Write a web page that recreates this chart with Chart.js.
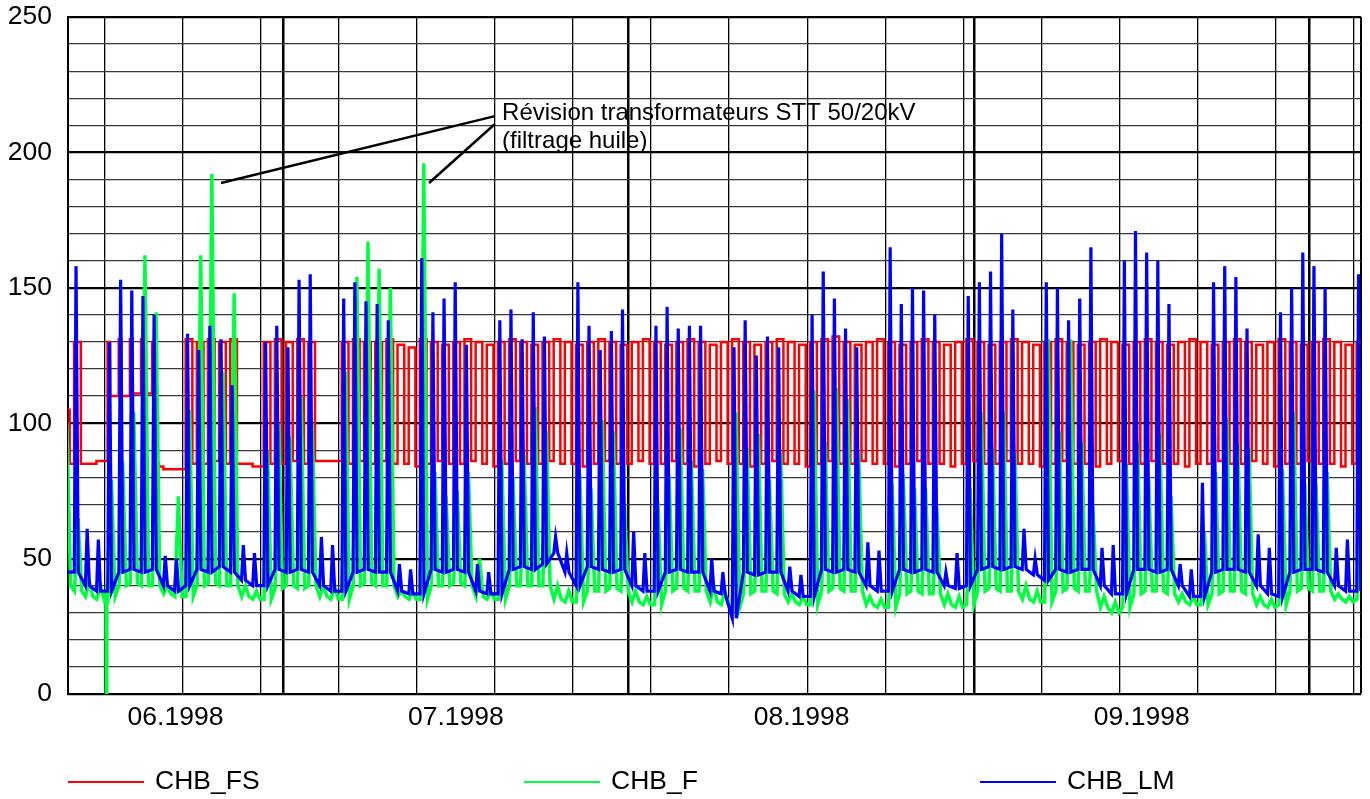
<!DOCTYPE html>
<html>
<head>
<meta charset="utf-8">
<title>CHB</title>
<script src="https://cdn.jsdelivr.net/npm/chart.js@4.4.0/dist/chart.umd.min.js"></script>
<style>
  html, body { margin: 0; padding: 0; background: #fff; }
</style>
</head>
<body>
<canvas id="chart" width="1370" height="799"></canvas>
<script>
// x = days counted from 01.06.1998 00:00; arrays below start with day 10 (Thu 11.06.1998)
const firstDay = 10;
const xMin = 10.72, xMax = 126.66;
const mondays = [14, 21, 28, 35, 42, 49, 56, 63, 70, 77, 84, 91, 98, 105, 112, 119, 126];
const monthStarts = [30, 61, 92, 122];
const monthLabelPos = [20.36, 45.5, 76.5, 107];
const monthLabelText = ['06.1998', '07.1998', '08.1998', '09.1998'];

// CHB_LM (blue): daily peak and night level
const lmPeak = [
  160, 158, 61, 57,
  130, 153, 149, 147, 140, 51, 50,
  133, 127, 136, 131, 114, 55, 52,
  130, 136, 128, 153, 155, 58, 55,
  146, 152, 145, 144, 138, 48, 46,
  161, 141, 146, 152, 129, 48, 45,
  138, 142, 131, 141, 132, 58, 52,
  152, 136, 127, 134, 142, 60, 52,
  136, 143, 135, 136, 136, 50, 45,
  128, 138, 125, 132, 128, 47, 44,
  140, 156, 146, 135, 128, 56, 53,
  165, 144, 150, 149, 140, 45, 52,
  147, 152, 156, 170, 142, 61, 50,
  152, 150, 138, 146, 165, 54, 55,
  160, 171, 163, 160, 144, 48, 46,
  78, 152, 158, 154, 135, 59, 54,
  141, 150, 163, 158, 150, 54, 57,
  155
];
const lmBase = [
  45, 45, 40, 38,
  38, 45, 46, 45, 46, 40, 38,
  40, 46, 45, 47, 45, 42, 40,
  40, 46, 45, 46, 45, 40, 38,
  38, 45, 46, 45, 45, 38, 37,
  37, 46, 45, 46, 45, 38, 37,
  37, 46, 47, 46, 48, 52, 45,
  40, 47, 46, 45, 46, 40, 38,
  38, 45, 46, 45, 45, 38, 37,
  28, 45, 44, 45, 45, 38, 36,
  36, 46, 45, 46, 45, 40, 38,
  38, 46, 45, 46, 45, 40, 39,
  40, 46, 47, 46, 47, 46, 44,
  42, 46, 45, 46, 46, 40, 37,
  37, 46, 46, 45, 46, 40, 36,
  36, 45, 46, 46, 45, 40, 37,
  36, 45, 46, 46, 45, 40, 38,
  38
];

// CHB_F (green): daily peak and night level
const fPeak = [
  100, 65, 42, 40,
  79, 86, 104, 162, 141, 40, 73,
  105, 162, 192, 119, 148, 40, 38,
  90, 100, 95, 110, 100, 40, 40,
  119, 154, 167, 157, 150, 38, 38,
  196, 82, 73, 75, 82, 50, 38,
  86, 80, 88, 106, 97, 40, 38,
  81, 76, 101, 97, 70, 38, 36,
  71, 81, 98, 86, 83, 40, 38,
  104, 91, 96, 79, 89, 37, 36,
  112, 93, 113, 109, 89, 36, 35,
  78, 81, 76, 76, 69, 37, 36,
  76, 104, 91, 104, 89, 40, 38,
  131, 97, 131, 93, 69, 36, 34,
  85, 93, 80, 96, 73, 37, 36,
  60, 82, 102, 92, 91, 36, 35,
  83, 104, 78, 78, 82, 37, 36,
  73
];
const fBase = [
  40, 38, 36, 35,
  36, 40, 41, 40, 40, 37, 36,
  36, 40, 41, 40, 40, 36, 35,
  35, 39, 40, 39, 40, 36, 35,
  35, 40, 41, 40, 40, 36, 35,
  35, 40, 40, 41, 40, 36, 35,
  35, 40, 40, 40, 40, 35, 34,
  34, 38, 38, 39, 38, 34, 33,
  33, 38, 39, 38, 38, 34, 33,
  32, 37, 38, 38, 37, 34, 33,
  33, 38, 39, 38, 38, 33, 32,
  32, 37, 38, 37, 37, 33, 32,
  33, 38, 39, 38, 38, 35, 34,
  34, 38, 39, 38, 38, 32, 30,
  32, 37, 38, 38, 37, 34, 33,
  33, 37, 38, 38, 37, 33, 32,
  33, 38, 39, 38, 38, 35, 34,
  35
];
// the short drop of CHB_F to 0 on 15.06.1998 early morning
const fDropX = [14.12, 14.16, 14.2];
const fDropY = [37, 0, 37];

// CHB_FS (red): morning level, day level (null = no pulse), night level
const fsMorning = [
  null, null, null, null,
  130, 131, 131, 131, 130, null, null
];
const fsDay = [
  105, 130, null, null,
  110, 110, 111, 111, 85, null, null,
  131, 130, 131, 130, 131, null, null,
  130, 131, 130, 131, 130, null, null,
  130, 131, 130, 130, 131, 129, 128,
  131, 130, 129, 130, 131, 130, 129,
  130, 131, 130, 129, 130, 131, 130,
  129, 130, 131, 130, 129, 130, 131,
  130, 129, 130, 131, 130, 129, 130,
  131, 130, 129, 130, 131, 130, 129,
  130, 131, 132, 130, 129, 130, 131,
  130, 129, 130, 131, 130, 129, 130,
  131, 130, 129, 130, 131, 130, 129,
  130, 131, 130, 129, 130, 131, 130,
  129, 130, 131, 130, 129, 130, 131,
  130, 129, 130, 131, 130, 129, 130,
  131, 130, 129, 130, 131, 130, 129,
  130
];
const fsNight = [
  85, 85, 85, 86,
  110, 110, 111, 111, 84, 83, 83,
  85, 85, 86, 85, 85, 85, 84,
  85, 85, 86, 85, 86, 86, 86,
  85, 86, 85, 86, 85, 85, 84,
  85, 86, 85, 85, 86, 85, 84,
  85, 86, 85, 85, 86, 85, 85,
  84, 85, 86, 85, 85, 86, 85,
  85, 86, 85, 84, 85, 86, 85,
  85, 84, 85, 86, 85, 85, 84,
  85, 86, 85, 85, 86, 85, 85,
  84, 85, 86, 85, 85, 84, 85,
  86, 85, 85, 86, 85, 85, 84,
  85, 86, 85, 85, 84, 85, 86,
  85, 85, 86, 85, 85, 84, 85,
  85, 86, 85, 85, 86, 85, 84,
  85, 85, 86, 85, 85, 84, 85,
  85
];

// annotation
const annFromX = [24.44, 43.09], annFromY = [188.7, 188.7];
const annToX = [49.0, 49.0], annToY = [213.4, 210.5];
const annText = ['Révision transformateurs STT 50/20kV', '(filtrage huile)'];
const annTextX = 49.64, annTextY = [212.0, 201.5];

const seriesNames = ['CHB_FS', 'CHB_F', 'CHB_LM'];
const seriesColors = ['#ff0000', '#00ff40', '#0000ff'];

const FONT = '"Liberation Sans", Arial, sans-serif';
const LABEL_SIZE = 26.5;

// one pulse per day: rise from the night level, daily peak, back to the night level
function peakPoints(peaks, bases, rise, top, fall) {
  const pts = [];
  peaks.forEach((p, i) => {
    const d = firstDay + i;
    pts.push({ x: d + rise, y: bases[i] }, { x: d + top, y: p }, { x: d + fall, y: bases[i] });
  });
  return pts;
}

function stepPoints(morning, day, night) {
  const pts = [];
  night.forEach((n, i) => {
    const d = firstDay + i;
    const dy = day[i] ?? n;
    const m = morning[i] ?? dy;
    pts.push({ x: d + 0.27, y: m }, { x: d + 0.5, y: dy }, { x: d + 0.87, y: n });
  });
  return pts;
}

const greenPts = peakPoints(fPeak, fBase, 0.3, 0.62, 0.95);
fDropX.forEach((x, i) => greenPts.push({ x: x, y: fDropY[i] }));
greenPts.sort((a, b) => a.x - b.x);

const xTickLabel = {};
monthLabelPos.forEach((v, i) => { xTickLabel[v] = monthLabelText[i]; });

const customLegend = {
  id: 'customLegend',
  afterDraw(chart) {
    const ctx = chart.ctx;
    const left = chart.chartArea.left;
    const y = 782;
    ctx.save();
    ctx.font = LABEL_SIZE + 'px ' + FONT;
    ctx.textBaseline = 'middle';
    ctx.fillStyle = '#000';
    seriesNames.forEach((name, i) => {
      const x0 = left + i * 456;
      ctx.strokeStyle = seriesColors[i];
      ctx.lineWidth = 2;
      ctx.beginPath();
      ctx.moveTo(x0, y);
      ctx.lineTo(x0 + 76, y);
      ctx.stroke();
      ctx.fillText(name, x0 + 87, y);
    });
    ctx.restore();
  }
};

const annotation = {
  id: 'annotation',
  afterDatasetsDraw(chart) {
    const ctx = chart.ctx;
    const xs = chart.scales.x, ys = chart.scales.y;
    ctx.save();
    ctx.strokeStyle = '#000';
    ctx.lineWidth = 2.5;
    annFromX.forEach((fx, i) => {
      ctx.beginPath();
      ctx.moveTo(xs.getPixelForValue(fx), ys.getPixelForValue(annFromY[i]));
      ctx.lineTo(xs.getPixelForValue(annToX[i]), ys.getPixelForValue(annToY[i]));
      ctx.stroke();
    });
    ctx.font = '24px ' + FONT;
    ctx.fillStyle = '#000';
    ctx.textBaseline = 'alphabetic';
    annText.forEach((t, i) => {
      ctx.fillText(t, xs.getPixelForValue(annTextX), ys.getPixelForValue(annTextY[i]));
    });
    ctx.restore();
  }
};

new Chart(document.getElementById('chart'), {
  type: 'line',
  data: {
    datasets: [
      {
        label: seriesNames[0],
        data: stepPoints(fsMorning, fsDay, fsNight),
        borderColor: seriesColors[0],
        borderWidth: 2.5,
        stepped: true,
        order: 3
      },
      {
        label: seriesNames[1],
        data: greenPts,
        borderColor: seriesColors[1],
        borderWidth: 3.5,
        order: 2
      },
      {
        label: seriesNames[2],
        data: peakPoints(lmPeak, lmBase, 0.28, 0.44, 0.64),
        borderColor: seriesColors[2],
        borderWidth: 3.2,
        order: 1
      }
    ]
  },
  options: {
    responsive: false,
    animation: false,
    devicePixelRatio: 1,
    layout: { padding: { top: 17, right: 9, left: 0, bottom: 0 } },
    elements: { point: { radius: 0 }, line: { tension: 0 } },
    plugins: { legend: { display: false }, tooltip: { enabled: false } },
    scales: {
      x: {
        type: 'linear',
        min: xMin,
        max: xMax,
        afterBuildTicks: (axis) => {
          const vals = [...mondays, ...monthStarts, ...monthLabelPos, xMax];
          axis.ticks = vals.sort((a, b) => a - b).map(v => ({ value: v }));
        },
        afterFit: (axis) => { axis.height = 105; axis.paddingLeft = 0; axis.paddingRight = 0; },
        ticks: {
          autoSkip: false,
          maxRotation: 0,
          padding: 8,
          color: '#000',
          font: { size: LABEL_SIZE, family: FONT },
          callback: (v) => xTickLabel[v] || ''
        },
        grid: {
          drawTicks: false,
          color: '#000',
          lineWidth: (c) => {
            const v = c.tick ? c.tick.value : null;
            if (monthStarts.includes(v)) return 2.5;
            if (mondays.includes(v)) return 1.3;
            if (v === xMax) return 2;
            return 0;
          }
        },
        border: { display: true, color: '#000', width: 2 }
      },
      y: {
        min: 0,
        max: 250,
        afterFit: (axis) => { axis.width = 68; axis.paddingTop = 0; axis.paddingBottom = 0; },
        ticks: {
          stepSize: 10,
          autoSkip: false,
          padding: 16,
          color: '#000',
          font: { size: LABEL_SIZE, family: FONT },
          callback: (v) => (v % 50 === 0 ? v : '')
        },
        grid: {
          drawTicks: false,
          color: (c) => (c.tick && c.tick.value % 50 === 0 ? '#000' : '#3a3a3a'),
          lineWidth: (c) => (c.tick && c.tick.value % 50 === 0 ? 2.2 : 1.3)
        },
        border: { display: true, color: '#000', width: 2 }
      }
    }
  },
  plugins: [customLegend, annotation]
});
</script>
</body>
</html>
